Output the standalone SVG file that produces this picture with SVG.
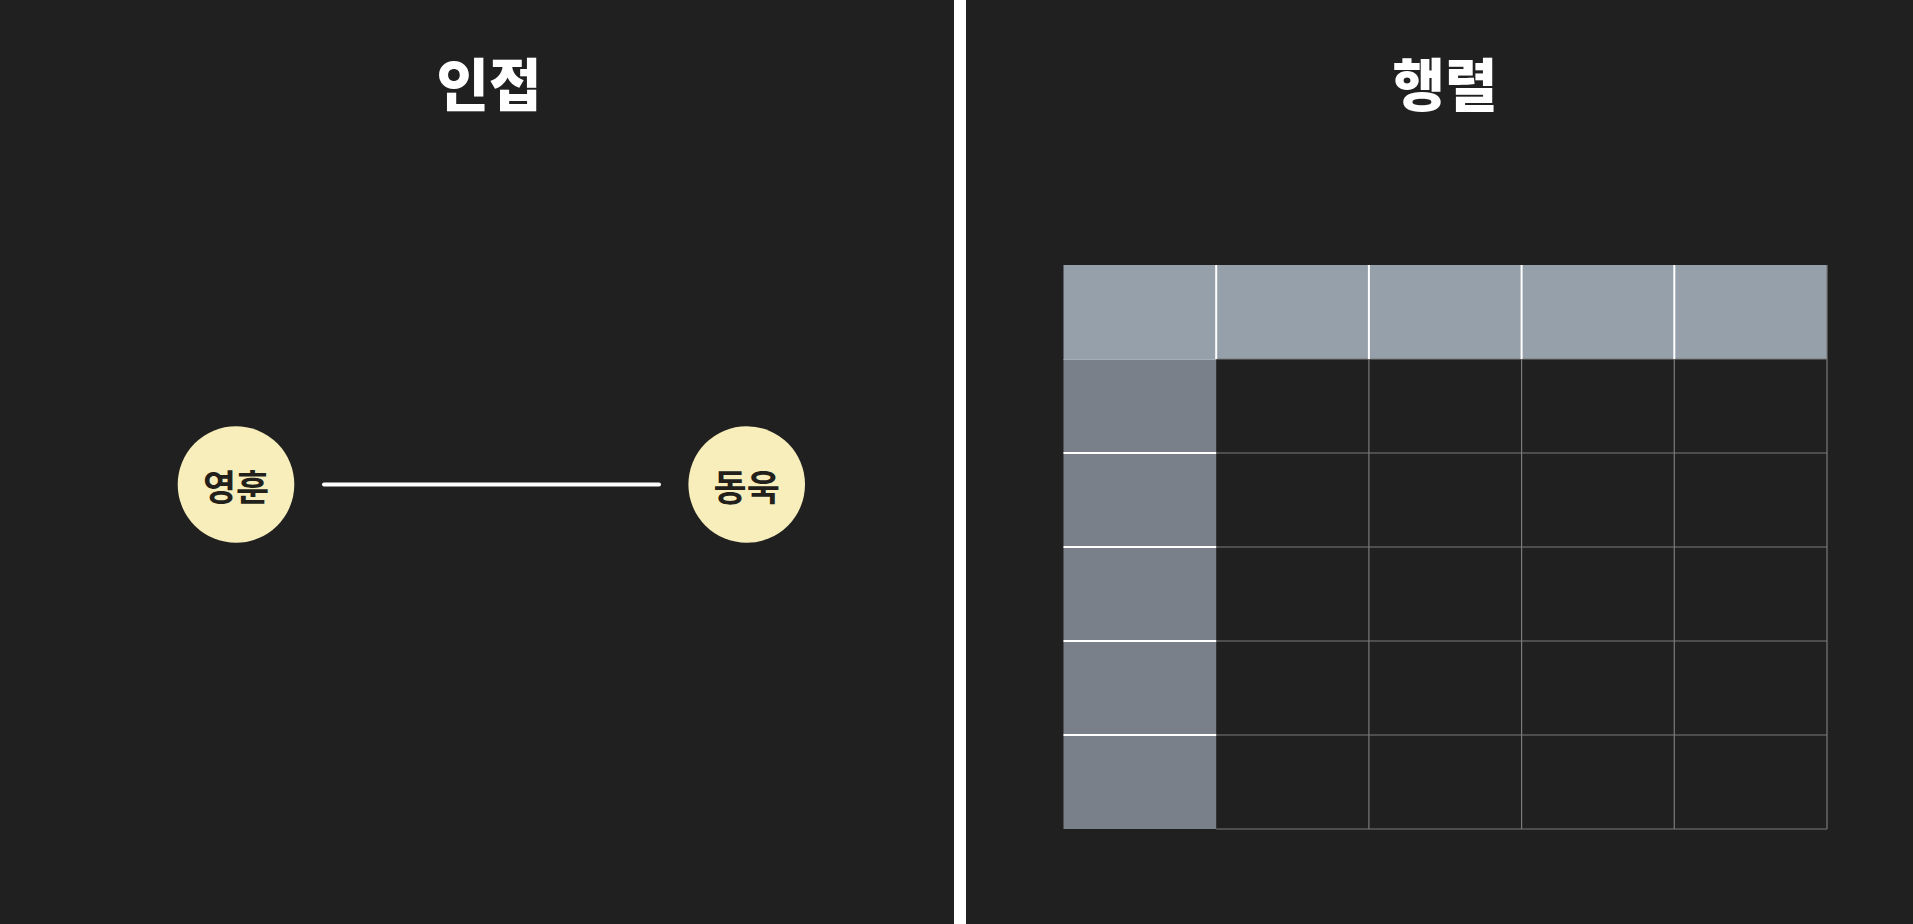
<svg xmlns="http://www.w3.org/2000/svg" width="1913" height="924" viewBox="0 0 1913 924">
<style>
.title{font-family:"Noto Sans CJK KR","Noto Sans",sans-serif;font-weight:900;font-size:57px;fill:#ffffff;text-anchor:middle}
.nlabel{font-family:"Noto Sans CJK KR","Noto Sans",sans-serif;font-weight:700;font-size:36px;fill:#231f1a;text-anchor:middle;dominant-baseline:central}
.node{fill:#f8eebb}
.grid{stroke:#7a7a7a;stroke-width:1.2;fill:none}
.wline{stroke:#ffffff;stroke-width:2;fill:none}
</style>
<rect x="0" y="0" width="1913" height="924" fill="#202020"/>
<rect x="954" y="0" width="12" height="924" fill="#ffffff"/>
<text class="title" x="489" y="106">인접</text>
<text class="title" x="1445" y="106">행렬</text>
<g id="edges">
<line x1="324" y1="484.5" x2="659" y2="484.5" stroke="#ffffff" stroke-width="4" stroke-linecap="round"/>
</g>
<g id="node-younghoon">
<circle class="node" cx="236" cy="484.5" r="58.3"/>
<text class="nlabel" x="236" y="485">영훈</text>
</g>
<g id="node-dongwook">
<circle class="node" cx="746.7" cy="484.5" r="58.3"/>
<text class="nlabel" x="746.7" y="485">동욱</text>
</g>
<g id="matrix">
<rect x="1063.5" y="265" width="763.5" height="94" fill="#96a0ab"/>
<rect x="1063.5" y="359" width="152.7" height="470" fill="#7a808a"/>
<line class="grid" x1="1216.2" y1="359" x2="1827" y2="359"/>
<line class="grid" x1="1216.2" y1="453" x2="1827" y2="453"/>
<line class="grid" x1="1216.2" y1="547" x2="1827" y2="547"/>
<line class="grid" x1="1216.2" y1="641" x2="1827" y2="641"/>
<line class="grid" x1="1216.2" y1="735" x2="1827" y2="735"/>
<line class="grid" x1="1216.2" y1="829" x2="1827" y2="829"/>
<line class="grid" x1="1368.9" y1="359" x2="1368.9" y2="829"/>
<line class="grid" x1="1521.6" y1="359" x2="1521.6" y2="829"/>
<line class="grid" x1="1674.3" y1="359" x2="1674.3" y2="829"/>
<line class="grid" x1="1827" y1="265" x2="1827" y2="829"/>
<line class="wline" x1="1216.2" y1="265" x2="1216.2" y2="359"/>
<line class="wline" x1="1368.9" y1="265" x2="1368.9" y2="359"/>
<line class="wline" x1="1521.6" y1="265" x2="1521.6" y2="359"/>
<line class="wline" x1="1674.3" y1="265" x2="1674.3" y2="359"/>
<line class="wline" x1="1063.5" y1="453" x2="1216.2" y2="453"/>
<line class="wline" x1="1063.5" y1="547" x2="1216.2" y2="547"/>
<line class="wline" x1="1063.5" y1="641" x2="1216.2" y2="641"/>
<line class="wline" x1="1063.5" y1="735" x2="1216.2" y2="735"/>
<line x1="1063.5" y1="359.5" x2="1216.2" y2="359.5" stroke="#a4acb6" stroke-width="1"/>
</g>
</svg>
